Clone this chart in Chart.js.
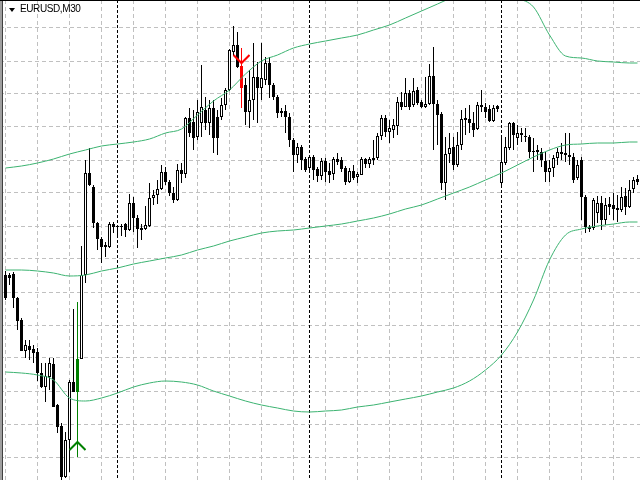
<!DOCTYPE html>
<html><head><meta charset="utf-8">
<style>
html,body{margin:0;padding:0;background:#fff;overflow:hidden}
#wrap{position:relative;width:640px;height:480px}
canvas{display:block}
#tri{position:absolute;left:9px;top:8px;width:0;height:0;border-left:3px solid transparent;border-right:3px solid transparent;border-top:4px solid #000}
#title{position:absolute;left:20px;top:2px;font:10px "Liberation Sans",Arial,sans-serif;letter-spacing:-0.4px;color:#000;line-height:13px;white-space:nowrap}
</style>
<script src="https://cdn.jsdelivr.net/npm/chart.js@4/dist/chart.umd.min.js"></script>
</head><body>
<div id="wrap"><canvas id="c" width="640" height="480"></canvas><div id="tri"></div><div id="title">EURUSD,M30</div></div>
<script>
const symbolLabel = 'EURUSD,M30';
const opens = [
1.1225,1.1225,1.1226,1.1202,1.1180,1.1149,1.1154,1.1151,1.1148,1.1127,
1.1113,1.1123,1.1136,1.1095,1.1074,1.1023,1.1060,1.1118,1.1108,1.1141,
1.1225,1.1327,1.1313,1.1277,1.1261,1.1255,1.1253,1.1276,1.1274,1.1274,
1.1276,1.1270,1.1297,1.1282,1.1272,1.1271,1.1274,1.1302,1.1305,1.1311,
1.1328,1.1318,1.1307,1.1300,1.1330,1.1326,1.1382,1.1378,1.1363,1.1377,
1.1390,1.1377,1.1392,1.1383,1.1383,1.1395,1.1410,1.1448,1.1455,1.1434,
1.1415,1.1388,1.1400,1.1423,1.1412,1.1420,1.1437,1.1415,1.1403,1.1387,
1.1389,1.1383,1.1360,1.1345,1.1353,1.1341,1.1332,1.1343,1.1331,1.1324,
1.1339,1.1329,1.1326,1.1341,1.1340,1.1332,1.1318,1.1329,1.1323,1.1325,
1.1341,1.1336,1.1342,1.1342,1.1364,1.1382,1.1368,1.1370,1.1374,1.1398,
1.1393,1.1407,1.1395,1.1410,1.1398,1.1393,1.1396,1.1424,1.1396,1.1386,
1.1317,1.1346,1.1353,1.1335,1.1355,1.1382,1.1381,1.1377,1.1371,1.1395,
1.1393,1.1391,1.1379,1.1394,1.1317,1.1337,1.1352,1.1377,1.1362,1.1367,
1.1364,1.1363,1.1349,1.1350,1.1348,1.1339,1.1328,1.1332,1.1342,1.1348,
1.1347,1.1345,1.1343,1.1322,1.1340,1.1303,1.1273,1.1272,1.1287,1.1297,
1.1280,1.1296,1.1295,1.1292,1.1290,1.1304,1.1293,1.1311,1.1321];
const highs = [
1.1229,1.1227,1.1228,1.1203,1.1182,1.1160,1.1160,1.1155,1.1152,1.1137,
1.1137,1.1142,1.1142,1.1096,1.1077,1.1068,1.1120,1.1191,1.1198,1.1254,
1.1340,1.1352,1.1315,1.1278,1.1263,1.1258,1.1278,1.1278,1.1275,1.1276,
1.1277,1.1306,1.1303,1.1285,1.1276,1.1294,1.1317,1.1310,1.1320,1.1335,
1.1333,1.1320,1.1313,1.1336,1.1337,1.1383,1.1392,1.1390,1.1400,1.1435,
1.1403,1.1400,1.1400,1.1390,1.1402,1.1412,1.1451,1.1474,1.1468,1.1452,
1.1422,1.1430,1.1457,1.1438,1.1457,1.1443,1.1443,1.1417,1.1405,1.1392,
1.1395,1.1387,1.1362,1.1357,1.1355,1.1343,1.1345,1.1345,1.1333,1.1342,
1.1342,1.1337,1.1343,1.1347,1.1343,1.1334,1.1332,1.1335,1.1328,1.1343,
1.1342,1.1343,1.1360,1.1367,1.1385,1.1385,1.1380,1.1381,1.1403,1.1408,
1.1422,1.1410,1.1422,1.1413,1.1400,1.1423,1.1436,1.1453,1.1400,1.1388,
1.1363,1.1367,1.1363,1.1368,1.1390,1.1392,1.1395,1.1388,1.1398,1.1410,
1.1397,1.1395,1.1395,1.1395,1.1365,1.1363,1.1378,1.1378,1.1375,1.1372,
1.1372,1.1365,1.1362,1.1355,1.1352,1.1348,1.1340,1.1345,1.1352,1.1357,
1.1367,1.1367,1.1347,1.1340,1.1343,1.1305,1.1275,1.1302,1.1304,1.1304,
1.1302,1.1303,1.1307,1.1305,1.1313,1.1312,1.1320,1.1323,1.1325];
const lows = [
1.1200,1.1215,1.1192,1.1170,1.1149,1.1142,1.1140,1.1137,1.1119,1.1112,
1.1098,1.1110,1.1093,1.1067,1.1020,1.1022,1.1028,1.1108,1.1043,1.1141,
1.1217,1.1314,1.1272,1.1250,1.1237,1.1243,1.1252,1.1267,1.1263,1.1264,
1.1263,1.1269,1.1268,1.1252,1.1260,1.1270,1.1273,1.1295,1.1296,1.1310,
1.1315,1.1304,1.1297,1.1299,1.1317,1.1322,1.1363,1.1350,1.1360,1.1363,
1.1370,1.1365,1.1347,1.1345,1.1380,1.1390,1.1409,1.1444,1.1432,1.1392,
1.1375,1.1372,1.1380,1.1377,1.1400,1.1415,1.1402,1.1400,1.1382,1.1383,
1.1367,1.1353,1.1328,1.1337,1.1330,1.1328,1.1328,1.1320,1.1318,1.1320,
1.1318,1.1317,1.1320,1.1335,1.1328,1.1315,1.1317,1.1320,1.1317,1.1325,
1.1332,1.1332,1.1335,1.1340,1.1360,1.1363,1.1357,1.1362,1.1365,1.1390,
1.1393,1.1390,1.1393,1.1395,1.1392,1.1392,1.1395,1.1350,1.1355,1.1310,
1.1300,1.1337,1.1330,1.1333,1.1350,1.1365,1.1367,1.1363,1.1370,1.1388,
1.1382,1.1378,1.1378,1.1388,1.1315,1.1335,1.1350,1.1350,1.1355,1.1358,
1.1358,1.1342,1.1328,1.1340,1.1333,1.1318,1.1318,1.1323,1.1335,1.1340,
1.1338,1.1335,1.1317,1.1320,1.1280,1.1267,1.1268,1.1270,1.1277,1.1270,
1.1275,1.1285,1.1280,1.1278,1.1288,1.1285,1.1292,1.1307,1.1315];
const closes = [
1.1202,1.1222,1.1202,1.1179,1.1149,1.1155,1.1150,1.1147,1.1127,1.1113,
1.1124,1.1137,1.1093,1.1073,1.1023,1.1060,1.1118,1.1108,1.1141,1.1225,
1.1327,1.1315,1.1277,1.1261,1.1253,1.1253,1.1276,1.1273,1.1273,1.1273,
1.1270,1.1297,1.1282,1.1271,1.1270,1.1275,1.1302,1.1305,1.1311,1.1328,
1.1318,1.1307,1.1300,1.1330,1.1326,1.1382,1.1367,1.1362,1.1388,1.1393,
1.1377,1.1392,1.1362,1.1362,1.1395,1.1410,1.1450,1.1455,1.1433,1.1412,
1.1388,1.1400,1.1423,1.1412,1.1422,1.1437,1.1415,1.1403,1.1387,1.1389,
1.1383,1.1360,1.1345,1.1353,1.1340,1.1330,1.1343,1.1330,1.1324,1.1339,
1.1328,1.1325,1.1341,1.1338,1.1331,1.1318,1.1329,1.1322,1.1326,1.1341,
1.1336,1.1341,1.1340,1.1364,1.1382,1.1368,1.1372,1.1375,1.1398,1.1393,
1.1407,1.1393,1.1409,1.1397,1.1393,1.1396,1.1424,1.1396,1.1385,1.1317,
1.1346,1.1352,1.1335,1.1355,1.1381,1.1380,1.1377,1.1370,1.1395,1.1393,
1.1388,1.1379,1.1392,1.1391,1.1338,1.1353,1.1377,1.1365,1.1367,1.1365,
1.1363,1.1348,1.1348,1.1348,1.1340,1.1328,1.1332,1.1342,1.1348,1.1346,
1.1345,1.1343,1.1320,1.1335,1.1303,1.1273,1.1271,1.1300,1.1297,1.1280,
1.1295,1.1293,1.1291,1.1290,1.1303,1.1293,1.1310,1.1320,1.1318];

// Bollinger bands, read every 4 bars
const bandBars = [0,4,8,12,16,20,24,28,32,36,40,44,48,52,56,60,64,68,72,76,80,84,88,92,96,100,104,108,112,116,120,124,128,132,136,140,144,148,152,156,158];
const bandUpper = [1.1332,1.1334,1.1337,1.1341,1.1346,1.1350,1.1354,1.1356,1.1358,1.1361,1.1367,1.1371,1.1385,1.1399,1.1410,1.1426,1.1439,1.1445,1.1452,1.1456,1.1459,1.1462,1.1465,1.1470,1.1475,1.1482,1.1489,1.1496,1.1503,1.1508,1.1510,1.1509,1.1502,1.1493,1.1465,1.1444,1.1442,1.1439,1.1438,1.1437,1.1437];
const bandMiddle = [1.1230,1.1230,1.1229,1.1227,1.1224,1.1225,1.1229,1.1232,1.1236,1.1239,1.1242,1.1245,1.1250,1.1254,1.1259,1.1263,1.1267,1.1269,1.1270,1.1272,1.1274,1.1276,1.1279,1.1282,1.1286,1.1291,1.1295,1.1301,1.1307,1.1313,1.1320,1.1327,1.1335,1.1343,1.1350,1.1355,1.1356,1.1357,1.1357,1.1358,1.1358];
const bandLower = [1.1128,1.1127,1.1125,1.1120,1.1102,1.1099,1.1102,1.1107,1.1113,1.1117,1.1119,1.1118,1.1115,1.1109,1.1104,1.1099,1.1095,1.1092,1.1089,1.1088,1.1089,1.1090,1.1093,1.1095,1.1098,1.1101,1.1104,1.1108,1.1112,1.1119,1.1130,1.1145,1.1168,1.1200,1.1240,1.1265,1.1271,1.1274,1.1276,1.1278,1.1278];

const buyBars = [18];
const sellBars = [59];
const buyArrowPrice = [1.1052];
const sellArrowPrice = [1.1440];
const daySeparatorBars = [28, 76, 124];
const gridBars = [0,8,16,24,32,40,48,56,64,72,80,88,96,104,112,120,128,136,144,152];
const gridPrices = [1.1472,1.1439,1.1406,1.1373,1.1340,1.1307,1.1274,1.1241,1.1208,1.1175,1.1142,1.1109,1.1076,1.1043];
const priceMin = 1.1020, priceMax = 1.1500;

const BUY_COL = '#008000', SELL_COL = '#ff0000', BAND_COL = '#3cb371';
const barIdx = opens.map((_, i) => i);
const isBuy = i => buyBars.includes(i), isSell = i => sellBars.includes(i);
const bodyFill = barIdx.map(i => isBuy(i) ? BUY_COL : isSell(i) ? SELL_COL : (closes[i] > opens[i] ? '#ffffff' : '#000000'));
const bodyEdge = barIdx.map(i => isBuy(i) ? BUY_COL : isSell(i) ? SELL_COL : '#000000');

function arrowImg(up, color) {
  const c = document.createElement('canvas'); c.width = 17; c.height = 16;
  const g = c.getContext('2d'); g.strokeStyle = color; g.lineWidth = 2; g.beginPath();
  if (up) { g.moveTo(0.5, 10); g.lineTo(8.5, 2); g.lineTo(16.5, 10); }
  else { g.moveTo(0.5, 3); g.lineTo(8.5, 11); g.lineTo(16.5, 3); }
  g.stroke(); return c;
}

const borderPlugin = {
  id: 'frame',
  afterDraw(chart) {
    const g = chart.ctx; g.save();
    g.fillStyle = '#a0a0a0'; g.fillRect(0, 0, 2, 480);
    g.fillStyle = '#404040'; g.fillRect(2, 0, 1, 480);
    g.fillStyle = '#000'; g.fillRect(0, 0, 640, 1);
    g.restore();
  }
};

const datasets = [];
daySeparatorBars.forEach(b => datasets.push({
  type: 'line', data: [{x: b, y: priceMax}, {x: b, y: priceMin}],
  borderColor: '#000', borderWidth: 1, borderDash: [3, 2], pointRadius: 0, order: 10
}));
datasets.push({
  type: 'bar', data: barIdx.map(i => ({x: i, y: [lows[i], highs[i]]})),
  backgroundColor: bodyEdge, borderWidth: 0, barThickness: 1, grouped: false, inflateAmount: 0, order: 8
});
datasets.push({
  type: 'bar', data: barIdx.map(i => ({x: i, y: [opens[i], closes[i]]})),
  backgroundColor: bodyFill, borderColor: bodyEdge, borderWidth: 1, borderSkipped: false,
  barThickness: 3, grouped: false, inflateAmount: 0, order: 7
});
[bandUpper, bandMiddle, bandLower].forEach(arr => datasets.push({
  type: 'line', data: bandBars.map((b, j) => ({x: b, y: arr[j]})),
  borderColor: BAND_COL, borderWidth: 1, pointRadius: 0, cubicInterpolationMode: 'monotone', order: 3
}));
datasets.push({
  type: 'line', showLine: false, data: buyBars.map((b, j) => ({x: b, y: buyArrowPrice[j]})),
  pointStyle: arrowImg(true, BUY_COL), pointRadius: 8, order: 1
});
datasets.push({
  type: 'line', showLine: false, data: sellBars.map((b, j) => ({x: b, y: sellArrowPrice[j]})),
  pointStyle: arrowImg(false, SELL_COL), pointRadius: 8, order: 1
});

new Chart(document.getElementById('c'), {
  type: 'bar',
  data: {datasets},
  options: {
    responsive: false, animation: false, devicePixelRatio: 1, events: [],
    layout: {padding: 0, autoPadding: false},
    plugins: {legend: {display: false}, tooltip: {enabled: false}, title: {display: false}},
    scales: {
      x: {
        type: 'linear', min: -1.375, max: 158.625, offset: false,
        grid: {color: '#c0c0c0', lineWidth: 1, drawTicks: false, offset: false},
        border: {display: false, dash: [4, 3]},
        ticks: {display: false, padding: 0},
        afterBuildTicks: s => { s.ticks = gridBars.map(v => ({value: v})); },
        afterFit: s => { s.height = 0; }
      },
      y: {
        type: 'linear', min: priceMin, max: priceMax,
        grid: {color: '#c0c0c0', lineWidth: 1, drawTicks: false},
        border: {display: false, dash: [4, 3]},
        ticks: {display: false, padding: 0},
        afterBuildTicks: s => { s.ticks = gridPrices.map(v => ({value: v})); },
        afterFit: s => { s.width = 0; }
      }
    }
  },
  plugins: [borderPlugin]
});
</script>
</body></html>
